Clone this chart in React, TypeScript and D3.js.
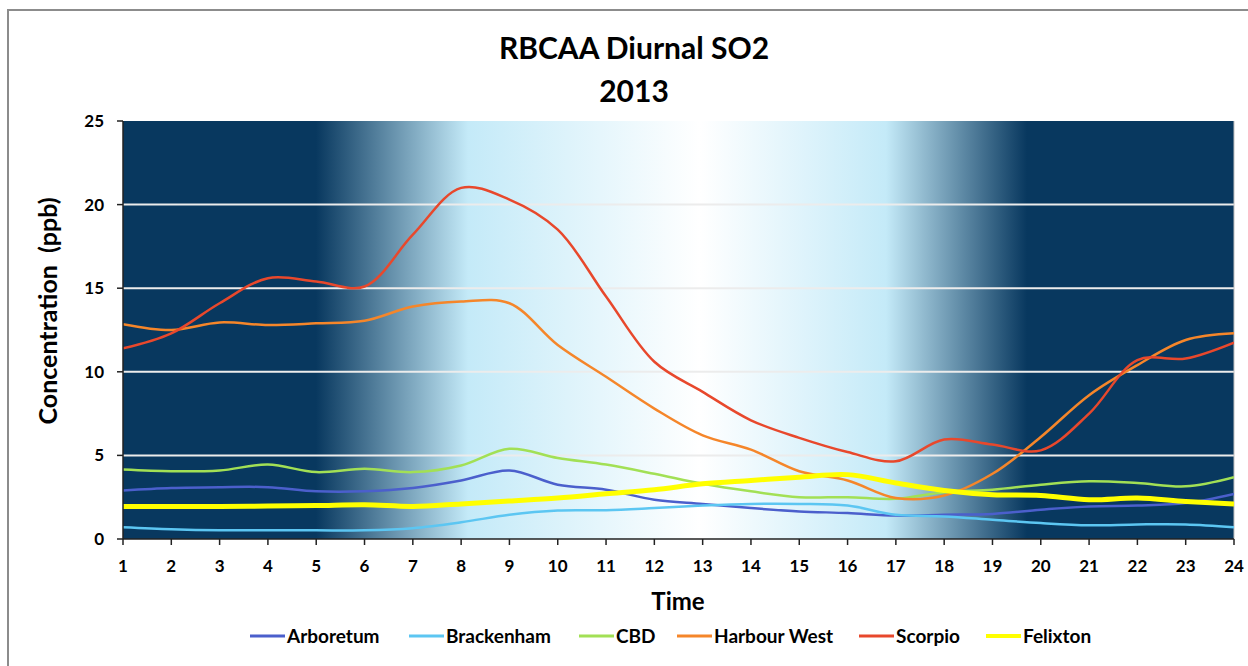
import React from "react";
import * as d3 from "d3";

const hours = [1, 2, 3, 4, 5, 6, 7, 8, 9, 10, 11, 12, 13, 14, 15, 16, 17, 18, 19, 20, 21, 22, 23, 24];
const yTicks = [0, 5, 10, 15, 20, 25];

const arboretum = [2.9, 3.05, 3.1, 3.1, 2.85, 2.85, 3.05, 3.5, 4.1, 3.25, 2.95, 2.35, 2.1, 1.85, 1.65, 1.55, 1.4, 1.45, 1.5, 1.75, 1.95, 2.0, 2.15, 2.7];
const brackenham = [0.7, 0.58, 0.52, 0.52, 0.52, 0.52, 0.65, 1.0, 1.45, 1.7, 1.72, 1.85, 2.0, 2.1, 2.1, 2.0, 1.45, 1.35, 1.15, 0.95, 0.82, 0.87, 0.87, 0.7];
const cbd = [4.15, 4.05, 4.1, 4.45, 4.0, 4.2, 4.0, 4.4, 5.4, 4.85, 4.45, 3.9, 3.3, 2.85, 2.5, 2.5, 2.4, 2.8, 2.95, 3.25, 3.45, 3.35, 3.15, 3.7];
const harbourWest = [12.85, 12.5, 12.95, 12.8, 12.9, 13.05, 13.9, 14.2, 14.1, 11.6, 9.7, 7.8, 6.2, 5.35, 4.05, 3.5, 2.45, 2.6, 3.9, 6.1, 8.6, 10.4, 11.9, 12.3];
const scorpio = [11.4, 12.3, 14.1, 15.6, 15.4, 15.1, 18.2, 21.0, 20.3, 18.5, 14.5, 10.6, 8.8, 7.1, 6.05, 5.2, 4.65, 5.95, 5.65, 5.3, 7.5, 10.7, 10.8, 11.75];
const felixton = [1.95, 1.95, 1.95, 1.97, 2.0, 2.05, 1.95, 2.1, 2.27, 2.45, 2.7, 2.95, 3.3, 3.5, 3.7, 3.85, 3.35, 2.9, 2.65, 2.6, 2.35, 2.45, 2.25, 2.1];

const series = [
  { name: "Arboretum", values: arboretum, color: "#4b5fcc", width: 2.5, legendX: 250 },
  { name: "Brackenham", values: brackenham, color: "#5cc6f2", width: 2.5, legendX: 409 },
  { name: "CBD", values: cbd, color: "#a2e055", width: 2.5, legendX: 579 },
  { name: "Harbour West", values: harbourWest, color: "#f5862a", width: 2.5, legendX: 677 },
  { name: "Scorpio", values: scorpio, color: "#e8482c", width: 2.5, legendX: 859 },
  { name: "Felixton", values: felixton, color: "#ffff00", width: 5, legendX: 986 },
];

const FONT = "Lato, 'Open Sans', sans-serif";
const DARK = "#08385f";
const LIGHT = "#c4eaf8";

const App = () => {
  const left = 123;
  const right = 1234;
  const top = 121;
  const bottom = 539;

  const x = d3.scaleLinear().domain([1, 24]).range([left, right]);
  const y = d3.scaleLinear().domain([0, 25]).range([bottom, top]);

  const line = d3
    .line<number>()
    .x((d, i) => x(hours[i]))
    .y((d) => y(d))
    .curve(d3.curveCatmullRom.alpha(0.5));

  // background stops, as x positions in pixels
  const stops = [
    [left, DARK],
    [316, DARK],
    [468, LIGHT],
    [700, "#ffffff"],
    [886, LIGHT],
    [1027, DARK],
    [right, DARK],
  ];

  return (
    <div style={{ position: "fixed", left: 0, top: 0 }}>
      <svg width={1248} height={666} style={{ display: "block", background: "#fff" }}>
        <defs>
          <linearGradient id="daylight" gradientUnits="userSpaceOnUse" x1={left} x2={right} y1={0} y2={0}>
            {stops.map(([px, c], i) => (
              <stop key={i} offset={((px as number) - left) / (right - left)} stopColor={c as string} />
            ))}
          </linearGradient>
          <clipPath id="plotClip">
            <rect x={left} y={top - 5} width={right - left} height={bottom - top + 10} />
          </clipPath>
        </defs>

        {/* chart frame */}
        <rect x={8} y={10} width={1260} height={680} fill="none" stroke="#8c8c8c" strokeWidth={2} />

        <text x={634} y={59} textAnchor="middle" fontFamily={FONT} fontWeight="bold" fontSize={30}>
          RBCAA Diurnal SO2
        </text>
        <text x={634} y={102} textAnchor="middle" fontFamily={FONT} fontWeight="bold" fontSize={30}>
          2013
        </text>

        <rect x={left} y={top} width={right - left} height={bottom - top} fill="url(#daylight)" />

        {yTicks.slice(1, -1).map((t) => (
          <line key={t} x1={left} x2={right} y1={y(t)} y2={y(t)} stroke="#ececec" strokeWidth={2} />
        ))}
        <line x1={right} x2={right} y1={top} y2={bottom} stroke="#c0c0c0" strokeWidth={1} />

        <g clipPath="url(#plotClip)">
          {series.map((s) => (
            <path
              key={s.name}
              d={line(s.values) || ""}
              fill="none"
              stroke={s.color}
              strokeWidth={s.width}
              strokeLinejoin="round"
            />
          ))}
        </g>

        {/* axes */}
        <line x1={left} x2={left} y1={top} y2={bottom} stroke="#222" strokeWidth={1.5} />
        <line x1={left} x2={right} y1={bottom} y2={bottom} stroke="#222" strokeWidth={1.5} />
        {yTicks.map((t) => (
          <g key={t}>
            <line x1={left - 6} x2={left} y1={y(t)} y2={y(t)} stroke="#222" strokeWidth={1.5} />
            <text x={104} y={y(t) + 6} textAnchor="end" fontFamily={FONT} fontWeight="bold" fontSize={17}>
              {t}
            </text>
          </g>
        ))}
        {hours.map((h) => (
          <g key={h}>
            <line x1={x(h)} x2={x(h)} y1={bottom} y2={bottom + 6} stroke="#222" strokeWidth={1.5} />
            <text x={x(h)} y={572} textAnchor="middle" fontFamily={FONT} fontWeight="bold" fontSize={17}>
              {h}
            </text>
          </g>
        ))}

        <text
          transform={`translate(57, 311) rotate(-90)`}
          textAnchor="middle"
          fontFamily={FONT}
          fontWeight="bold"
          fontSize={25}
          style={{ whiteSpace: "pre" }}
        >
          {"Concentration  (ppb)"}
        </text>
        <text x={678} y={610} textAnchor="middle" fontFamily={FONT} fontWeight="bold" fontSize={24}>
          Time
        </text>

        {/* legend */}
        {series.map((s) => (
          <g key={s.name}>
            <line
              x1={s.legendX}
              x2={s.legendX + 35}
              y1={636}
              y2={636}
              stroke={s.color}
              strokeWidth={s.name === "Felixton" ? 4 : 3}
            />
            <text x={s.legendX + 37} y={643} fontFamily={FONT} fontWeight="bold" fontSize={19}>
              {s.name}
            </text>
          </g>
        ))}
      </svg>
    </div>
  );
};

export default App;
